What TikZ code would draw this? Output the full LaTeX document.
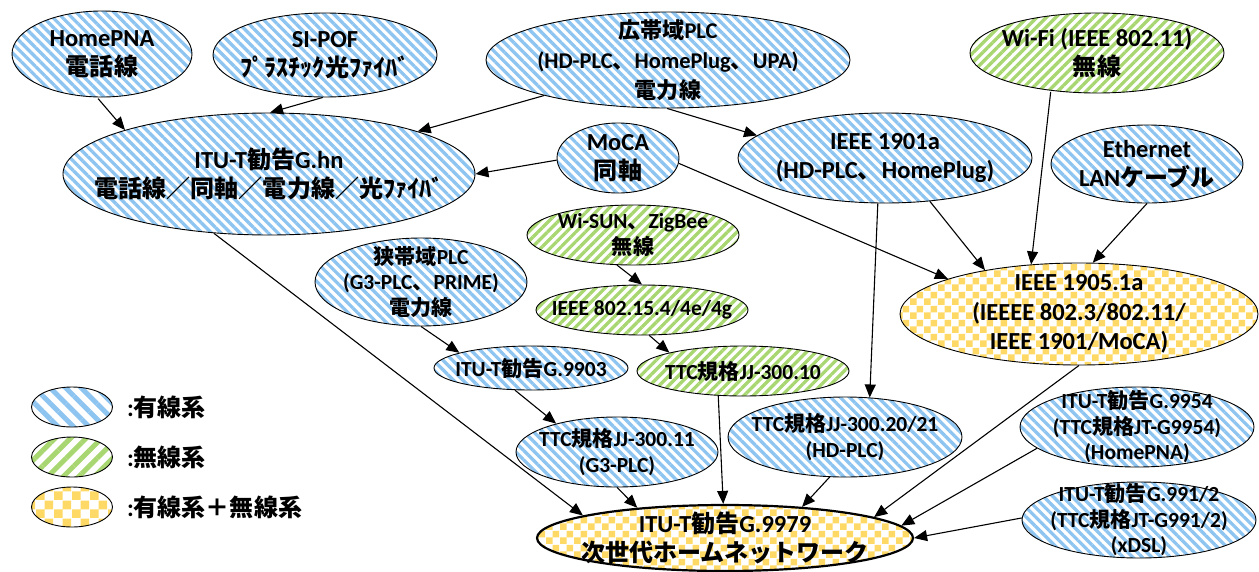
\documentclass[tikz,border=0pt]{standalone}
\usepackage{fontspec}
\setmainfont{Carlito}
\newfontfamily\cjk{Noto Sans CJK JP}[Scale=0.98]
\usetikzlibrary{shapes.geometric,arrows.meta,patterns,patterns.meta}
\definecolor{stripeblue}{RGB}{142,196,240}
\definecolor{stripegreen}{RGB}{168,214,112}
\definecolor{checkyellow}{RGB}{255,217,102}
\newcommand\J[1]{{\cjk #1}}
\newcommand\JC{{\cjk 、}}
\pgfdeclarepatternformonly{checkS}{\pgfpointorigin}{\pgfqpoint{14pt}{14pt}}{\pgfqpoint{14pt}{14pt}}{%
  \pgfpathrectangle{\pgfpointorigin}{\pgfqpoint{7pt}{7pt}}%
  \pgfpathrectangle{\pgfqpoint{7pt}{7pt}}{\pgfqpoint{7pt}{7pt}}%
  \pgfusepath{fill}}
\pgfdeclarepatternformonly{checkL}{\pgfpointorigin}{\pgfqpoint{18pt}{18pt}}{\pgfqpoint{18pt}{18pt}}{%
  \pgfpathrectangle{\pgfpointorigin}{\pgfqpoint{9pt}{9pt}}%
  \pgfpathrectangle{\pgfqpoint{9pt}{9pt}}{\pgfqpoint{9pt}{9pt}}%
  \pgfusepath{fill}}
\tikzset{
  base/.style={ellipse, draw, line width=0.9pt, inner sep=-60pt, align=center},
  wired/.style={base, pattern={Lines[angle=-45,distance=6.7pt,line width=3.3pt]}, pattern color=stripeblue},
  wless/.style={base, pattern={Lines[angle=45,distance=6.7pt,line width=3.3pt]}, pattern color=stripegreen},
  both/.style={base, pattern=checkS, pattern color=checkyellow},
  fbig/.style={font=\fontsize{24.5}{29.5}\selectfont\bfseries},
  fmid/.style={font=\fontsize{22.5}{30}\selectfont\bfseries},
  fsml/.style={font=\fontsize{21.5}{25.5}\selectfont\bfseries},
  arr/.style={-{Triangle[length=13pt,width=11pt]}, line width=1.1pt},
}
\begin{document}
\begin{tikzpicture}[x=1pt,y=-1pt]
\useasboundingbox (0,0) rectangle (1259,571);
% top row
\node[wired,fbig,minimum width=180pt,minimum height=86pt] (hpna) at (102,54) {HomePNA\\\J{電話線}};
\node[wired,fbig,minimum width=224pt,minimum height=84pt] (sipof) at (325,55) {SI-POF\\\J{ﾌﾟﾗｽﾁｯｸ光ﾌｧｲﾊﾞ}};
\node[wired,fmid,minimum width=364pt,minimum height=96pt] (bbplc) at (668,60) {\J{広帯域}PLC\\(HD-PLC\JC HomePlug\JC UPA)\\\J{電力線}};
\node[wless,fbig,minimum width=254pt,minimum height=80pt] (wifi) at (1097,53) {Wi-Fi (IEEE 802.11)\\\J{無線}};
% second row
\node[wired,fbig,minimum width=412pt,minimum height=122pt] (ghn) at (269,174) {ITU-T\J{勧告}G.hn\\\J{電話線／同軸／電力線／光ﾌｧｲﾊﾞ}};
\node[wired,fbig,minimum width=122pt,minimum height=70pt] (moca) at (618,158) {MoCA\\\J{同軸}};
\node[wired,fbig,minimum width=294pt,minimum height=90pt] (ieee1901) at (885,158) {IEEE 1901a\\(HD-PLC\JC HomePlug)};
\node[wired,fbig,minimum width=192pt,minimum height=78pt] (eth) at (1147,164) {Ethernet\\LAN\J{ケーブル}};
% middle
\node[wless,fsml,minimum width=212pt,minimum height=60pt] (wisun) at (633,235) {Wi-SUN\JC ZigBee\\\J{無線}};
\node[wired,fsml,minimum width=212pt,minimum height=88pt] (nbplc) at (421,282) {\J{狭帯域}PLC\\(G3-PLC\JC PRIME)\\\J{電力線}};
\node[wless,fsml,minimum width=212pt,minimum height=50pt] (i802154) at (642,310) {IEEE 802.15.4/4e/4g};
\node[both,fbig,minimum width=358pt,minimum height=102pt] (i1905) at (1079,314) {IEEE 1905.1a\\(IEEEE 802.3/802.11/\\IEEE 1901/MoCA)};
\node[wired,fsml,minimum width=194pt,minimum height=44pt] (g9903) at (531,368) {ITU-T\J{勧告}G.9903};
\node[wless,fsml,minimum width=212pt,minimum height=50pt] (jj10) at (743,371) {TTC\J{規格}JJ-300.10};
% lower
\node[wired,fsml,minimum width=202pt,minimum height=70pt] (jj11) at (617,452) {TTC\J{規格}JJ-300.11\\(G3-PLC)};
\node[wired,fsml,minimum width=234pt,minimum height=80pt] (jj20) at (845,437) {TTC\J{規格}JJ-300.20/21\\(HD-PLC)};
\node[wired,fsml,minimum width=234pt,minimum height=80pt] (g9954) at (1137,427) {ITU-T\J{勧告}G.9954\\(TTC\J{規格}JT-G9954)\\(HomePNA)};
\node[wired,fsml,minimum width=234pt,minimum height=76pt] (g9912) at (1139,520) {ITU-T\J{勧告}G.991/2\\(TTC\J{規格}JT-G991/2)\\(xDSL)};
\node[both,fbig,line width=2.2pt,minimum width=376pt,minimum height=66pt] (g9979) at (725,538) {ITU-T\J{勧告}G.9979\\\J{次世代ホームネットワーク}};
% legend
\node[base,minimum width=81pt,minimum height=40pt,pattern={Lines[angle=-45,distance=11pt,line width=5pt]},pattern color=stripeblue] (lg1) at (72,407) {};
\node[base,minimum width=81pt,minimum height=40pt,pattern={Lines[angle=45,distance=11pt,line width=5pt]},pattern color=stripegreen] (lg2) at (72,457) {};
\node[base,minimum width=81pt,minimum height=40pt,pattern=checkL,pattern color=checkyellow] (lg3) at (72,507) {};
\node[fbig,anchor=west,inner sep=0pt] (lt1) at (127,407) {:\J{有線系}};
\node[fbig,anchor=west,inner sep=0pt] (lt2) at (127,457) {:\J{無線系}};
\node[fbig,anchor=west,inner sep=0pt] (lt3) at (127,507) {:\J{有線系＋無線系}};
% connectors
\draw[arr] (hpna.265) -- (ghn.163);
\draw[arr] (sipof.267) -- (ghn.89);
\draw[arr] (bbplc.196) -- (ghn.16);
\draw[arr] (bbplc.269) -- (ieee1901.170);
\draw[arr] (moca.182) -- (ghn.0);
\draw[arr] (moca.-5) -- (i1905.165);
\draw[arr] (ieee1901.-44) -- (i1905.155);
\draw[arr] (ieee1901.261) -- (jj20.58);
\draw[arr] (wifi.220) -- (i1905.134);
\draw[arr] (eth.270) -- (i1905.75);
\draw[arr] (ghn.227) -- (g9979.171);
\draw[arr] (nbplc.270) -- (g9903.168);
\draw[arr] (wisun.242) -- (i802154.90);
\draw[arr] (i802154.286) -- (jj10.166);
\draw[arr] (g9903.234) -- (jj11.155);
\draw[arr] (jj10.225) -- (g9979.93);
\draw[arr] (jj11.270) -- (g9979.161);
\draw[arr] (jj20.249) -- (g9979.22);
\draw[arr] (i1905.270) -- (g9979.8);
\draw[arr] (g9954.192) -- (g9979.4);
\draw[arr] (g9912.179) -- (g9979.0);
\end{tikzpicture}
\end{document}
